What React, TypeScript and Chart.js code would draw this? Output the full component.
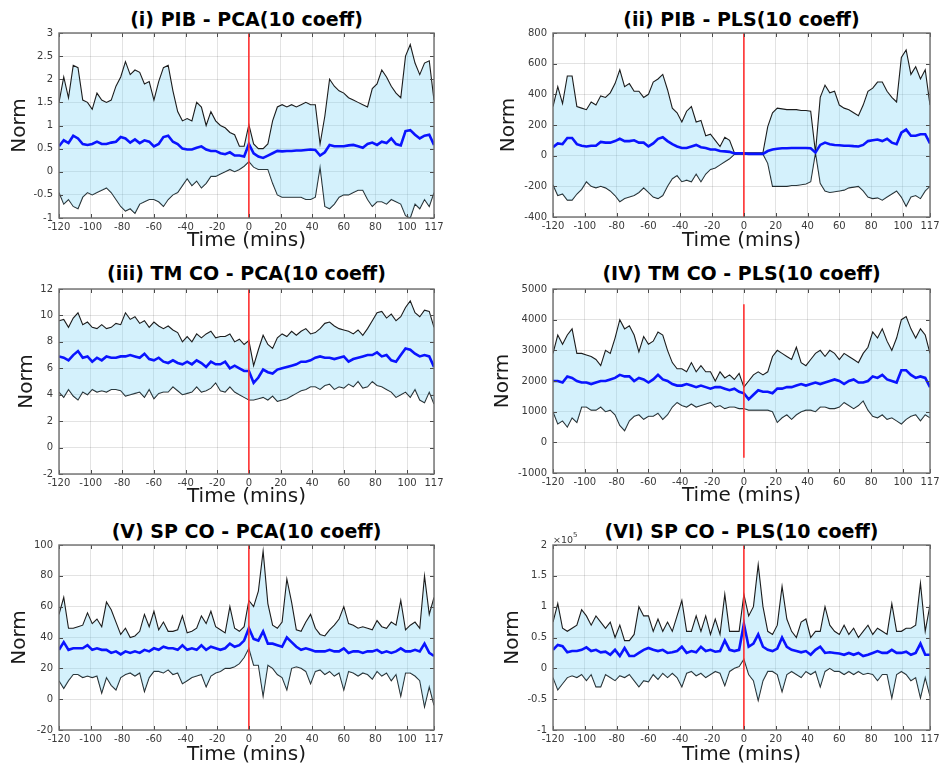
import React, { useEffect, useRef } from "react";
import { Chart, registerables } from "chart.js";

Chart.register(...registerables);

const FONT = "'DejaVu Sans', 'Liberation Sans', Arial, sans-serif";

// ---------- shared axis values ----------
const minutes = [
  -120, -117, -114, -111, -108, -105, -102, -99, -96, -93,
  -90, -87, -84, -81, -78, -75, -72, -69, -66, -63,
  -60, -57, -54, -51, -48, -45, -42, -39, -36, -33,
  -30, -27, -24, -21, -18, -15, -12, -9, -6, -3,
  0, 3, 6, 9, 12, 15, 18, 21, 24, 27,
  30, 33, 36, 39, 42, 45, 48, 51, 54, 57,
  60, 63, 66, 69, 72, 75, 78, 81, 84, 87,
  90, 93, 96, 99, 102, 105, 108, 111, 114, 117,
];
const xTicks = [-120, -100, -80, -60, -40, -20, 0, 20, 40, 60, 80, 100, 117];

// ---------- (i) PIB - PCA ----------
const pibPcaUpper = [
  1.5, 2.05, 1.6, 2.3, 2.25, 1.55, 1.5, 1.35, 1.7, 1.55,
  1.5, 1.55, 1.85, 2.05, 2.38, 2.1, 2.2, 2.15, 1.9, 1.95,
  1.55, 1.95, 2.25, 2.3, 1.75, 1.3, 1.1, 1.15, 1.1, 1.5,
  1.4, 1.0, 1.3, 1.1, 1.0, 0.95, 0.85, 0.8, 0.55, 0.55,
  1.02, 0.6, 0.5, 0.5, 0.6, 1.1, 1.4, 1.45, 1.4, 1.45,
  1.4, 1.45, 1.5, 1.45, 1.45, 0.6, 1.2, 2.0, 1.85, 1.75,
  1.7, 1.6, 1.55, 1.5, 1.45, 1.4, 1.8, 1.9, 2.2, 2.05,
  1.85, 1.7, 1.6, 2.5, 2.75, 2.35, 2.1, 2.35, 2.4, 1.55,
];
const pibPcaLower = [
  -0.45, -0.7, -0.6, -0.75, -0.8, -0.55, -0.45, -0.5, -0.45, -0.4,
  -0.35, -0.45, -0.6, -0.75, -0.85, -0.8, -0.9, -0.7, -0.65, -0.6,
  -0.6, -0.65, -0.75, -0.6, -0.5, -0.45, -0.3, -0.15, -0.3, -0.2,
  -0.35, -0.25, -0.1, -0.1, -0.05, 0.0, 0.05, 0.0, 0.05, 0.12,
  0.22, 0.1, 0.05, 0.05, 0.05, -0.25, -0.5, -0.55, -0.55, -0.55,
  -0.55, -0.55, -0.6, -0.6, -0.55, 0.1, -0.75, -0.8, -0.7, -0.55,
  -0.5, -0.5, -0.45, -0.4, -0.4, -0.6, -0.75, -0.65, -0.65, -0.7,
  -0.6, -0.65, -0.7, -0.95, -1.0, -0.7, -0.8, -0.6, -0.75, -0.45,
];
const pibPcaMean = [
  0.55, 0.68, 0.62, 0.78, 0.72, 0.6, 0.58, 0.6, 0.65, 0.6,
  0.6, 0.63, 0.65, 0.75, 0.72, 0.63, 0.7, 0.62, 0.68, 0.65,
  0.55, 0.6, 0.75, 0.78, 0.65, 0.6, 0.5, 0.48, 0.48, 0.52,
  0.55, 0.48, 0.45, 0.45, 0.4, 0.38, 0.42, 0.35, 0.35, 0.33,
  0.6, 0.4, 0.33, 0.3, 0.35, 0.4, 0.45, 0.44, 0.45, 0.45,
  0.46, 0.46, 0.47, 0.48, 0.47, 0.35, 0.42, 0.58, 0.55, 0.55,
  0.55, 0.57, 0.58, 0.55, 0.52, 0.6, 0.63, 0.58, 0.65, 0.62,
  0.72, 0.6, 0.57, 0.88, 0.9, 0.8, 0.72, 0.78, 0.8, 0.58,
];
const pibPcaTicks = [-1, -0.5, 0, 0.5, 1, 1.5, 2, 2.5, 3];

// ---------- (ii) PIB - PLS ----------
const pibPlsUpper = [
  320, 450, 340, 520, 520, 320, 310, 300, 350, 330,
  390, 380, 410, 470, 560, 450, 470, 420, 420, 380,
  400, 480, 500, 530, 430, 310, 280, 220, 290, 320,
  220, 230, 130, 140, 100, 60, 120, 100, 20, 20,
  18, 18, 18, 18, 20, 190, 280, 310, 305, 300,
  300, 300, 295, 295, 290, 20, 380, 460, 410, 420,
  330, 310, 300, 280, 260, 330, 420, 440, 480, 480,
  420, 380, 350, 640, 690, 530, 580, 500, 560, 330,
];
const pibPlsLower = [
  -190, -260, -250, -290, -290, -250, -220, -170, -200, -210,
  -200, -210, -230, -260, -300, -280, -270, -260, -240, -210,
  -240, -270, -280, -260, -200, -150, -130, -170, -160, -170,
  -120, -170, -120, -90, -80, -60, -40, -20, 8, 10,
  10, 10, 10, 10, 10, -50, -200, -200, -200, -200,
  -195, -195, -190, -185, -170, 20, -180, -230, -240, -235,
  -230, -225, -210, -205, -200, -230, -270, -280, -275, -290,
  -270, -250, -230, -270, -330, -270, -260, -280, -230, -200,
];
const pibPlsMean = [
  55, 80, 75, 115, 115, 75, 65, 60, 65, 65,
  90, 85, 85, 95, 110, 95, 95, 100, 85, 85,
  60, 80, 110, 120, 95, 75, 60, 50, 50, 60,
  70, 55, 50, 40, 40, 30, 28, 25, 15, 15,
  15, 12, 12, 12, 12, 30, 40, 45, 48, 48,
  50, 50, 50, 50, 48, 20, 70, 85, 75, 70,
  68, 65, 65, 62, 60, 70, 95, 100, 105, 95,
  110, 85, 75, 150, 170, 130, 130, 140, 140, 80,
];
const pibPlsTicks = [-400, -200, 0, 200, 400, 600, 800];

// ---------- (iii) TM CO - PCA ----------
const tmPcaUpper = [
  9.6, 9.7, 9.1, 9.8, 10.2, 9.3, 9.5, 9.1, 9.0, 9.3,
  9.0, 9.1, 9.4, 9.3, 10.2, 9.7, 9.9, 9.4, 9.6, 9.1,
  9.5, 9.2, 9.0, 9.2, 8.9, 8.7, 8.0, 8.4, 8.0, 8.6,
  8.3, 8.6, 8.8, 8.3, 8.4, 8.4, 8.6, 8.0, 8.2, 7.8,
  8.1, 6.2, 7.4, 8.5, 7.8, 7.5, 8.3, 8.6, 8.4, 8.8,
  8.5, 8.8, 9.0, 8.6, 8.7, 9.0, 9.4, 9.5, 9.2, 9.0,
  8.9, 8.8, 8.6, 8.9, 8.5, 9.0, 9.6, 10.2, 10.3, 9.8,
  10.1, 9.6, 9.9, 10.6, 11.1, 10.2, 9.9, 10.4, 10.3, 9.1,
];
const tmPcaLower = [
  4.2, 3.8, 4.4, 3.9, 3.6, 4.2, 4.0, 4.4, 4.2, 4.3,
  4.2, 4.4, 4.4, 4.3, 3.9, 4.0, 4.1, 4.2, 3.8, 4.4,
  3.7, 4.1, 4.2, 4.2, 4.6, 4.3, 4.0, 4.1, 4.2, 4.6,
  4.2, 4.3, 4.5, 4.9, 4.3, 4.2, 4.6, 4.2, 4.0, 3.8,
  3.6, 3.6, 3.7, 3.8, 3.6, 3.9, 3.5, 3.6, 3.7, 3.9,
  4.1, 4.3, 4.4, 4.6, 4.6, 4.4, 4.7, 4.8, 4.4, 4.6,
  4.5, 4.8, 4.6, 5.0, 4.5, 4.6, 5.0, 4.7, 4.6, 4.4,
  4.2, 3.8, 4.0, 4.2, 3.8, 4.4, 3.6, 3.4, 4.2, 3.3,
];
const tmPcaMean = [
  6.9, 6.8, 6.6, 7.0, 7.3, 6.8, 6.9, 6.5, 6.8, 6.6,
  6.9, 6.8, 6.8, 6.9, 6.9, 7.0, 6.9, 6.8, 7.1, 6.7,
  6.6, 6.8, 6.5, 6.4, 6.6, 6.4, 6.3, 6.5, 6.3, 6.6,
  6.4, 6.1, 6.5, 6.3, 6.3, 6.5, 6.0, 6.2, 6.0, 5.8,
  5.8, 4.9, 5.3, 5.9, 5.7, 5.6, 5.9, 6.0, 6.1, 6.2,
  6.3, 6.5, 6.5, 6.6, 6.8, 6.9, 6.8, 6.8, 6.7, 6.8,
  6.9, 6.5, 6.7, 6.8, 6.9, 7.0, 7.0, 7.2, 6.9, 7.0,
  6.6, 6.5, 7.0, 7.5, 7.4, 7.1, 6.9, 7.0, 6.9, 6.1,
];
const tmPcaTicks = [-2, 0, 2, 4, 6, 8, 10, 12];

// ---------- (IV) TM CO - PLS ----------
const tmPlsUpper = [
  2900, 3500, 3200, 3500, 3700, 2900, 2900, 2850, 2800, 2700,
  2500, 3000, 2900, 3400, 4000, 3700, 3800, 3500, 2950, 3450,
  3200, 3300, 3600, 3500, 3000, 2600, 2400, 2400, 2300, 2600,
  2300, 2500, 2300, 2300, 2000, 2300, 2100, 2200, 2050, 2250,
  1800, 2000, 2200, 2300, 2200, 2300, 2800, 3000, 2900, 2800,
  2700, 3100, 2600, 2500, 2700, 2900, 3000, 2800, 3000, 2900,
  2700, 2900, 2800, 2700, 2600, 2900, 3100, 3600, 3400, 3700,
  3300, 3000, 3400, 4000, 4100, 3700, 3400, 3700, 3500, 2900,
];
const tmPlsLower = [
  1000, 600, 700, 500, 800, 650, 1150, 1150, 1050, 1050,
  1150, 1000, 1050, 900, 550, 380, 700, 850, 900, 750,
  850, 850, 950, 750, 900, 1150, 1300, 1200, 1150, 1250,
  1150, 1200, 1250, 1300, 1150, 1200, 1100, 1150, 1150, 1100,
  1100, 1050, 1050, 1050, 1050, 1050, 1000, 650, 800, 900,
  750, 900, 1000, 1050, 1050, 1000, 1150, 1150, 1100, 1100,
  1150, 1300, 1200, 1100, 1200, 1350, 1050, 850, 800, 900,
  750, 800, 700, 600, 750, 850, 900, 700, 900, 800,
];
const tmPlsMean = [
  2000, 2000, 1950, 2150, 2100, 2000, 1950, 1950, 1900, 1950,
  2000, 2000, 2050, 2100, 2200, 2150, 2150, 2000, 2100, 2050,
  1950, 2050, 2200, 2050, 2000, 1900, 1850, 1850, 1900, 1850,
  1800, 1850, 1800, 1750, 1800, 1800, 1750, 1700, 1750, 1650,
  1600, 1400, 1550, 1700, 1650, 1650, 1600, 1750, 1750, 1800,
  1800, 1850, 1900, 1850, 1900, 1950, 1900, 1950, 2000, 2050,
  2000, 1900, 2000, 2050, 1950, 1950, 2000, 2150, 2100, 2200,
  2050, 2000, 1950, 2350, 2350, 2200, 2100, 2150, 2100, 1800,
];
const tmPlsTicks = [-1000, 0, 1000, 2000, 3000, 4000, 5000];

// ---------- (V) SP CO - PCA ----------
const spPcaUpper = [
  55, 66, 46, 46, 47, 48, 56, 49, 52, 47,
  63, 58, 50, 42, 46, 40, 41, 44, 55, 47,
  57, 45, 50, 44, 44, 45, 54, 43, 44, 46,
  54, 49, 57, 47, 45, 43, 60, 46, 44, 47,
  64, 60, 70, 96, 62, 48, 46, 50, 78, 63,
  45, 44, 50, 55, 46, 42, 41, 45, 48, 52,
  60, 49, 48, 46, 47, 46, 45, 51, 47, 46,
  50, 48, 64, 45, 48, 50, 46, 80, 55, 66,
];
const spPcaLower = [
  12, 7, 12, 16, 16, 14, 15, 14, 15, 4,
  14, 9, 6, 14, 16, 17, 15, 17, 5, 14,
  18, 18, 17, 19, 16, 17, 10, 12, 14, 15,
  16, 8, 15, 17, 18, 20, 20, 21, 23, 27,
  33, 22, 22, 2, 22, 20, 16, 14, 6, 20,
  21, 20, 18, 10, 18, 19, 16, 18, 15, 17,
  6, 18, 17, 15, 17, 16, 13, 18, 15, 17,
  12, 16, 2, 17, 17, 15, 12, -5, 8, -4,
];
const spPcaMean = [
  32, 37, 32, 33, 33, 33, 35, 32, 33, 32,
  32, 30, 31, 29, 31, 30, 31, 30, 32, 31,
  33, 32, 34, 33, 33, 32, 35, 32, 33, 32,
  35, 32, 34, 33, 32, 33, 36, 34, 35, 38,
  46, 39, 38, 44, 36, 36, 35, 34, 40, 37,
  34, 32, 33, 32, 31, 31, 31, 32, 31, 31,
  33, 30, 31, 31, 30, 31, 31, 32, 30, 31,
  30, 31, 33, 31, 31, 32, 31, 36, 30, 28,
];
const spPcaTicks = [-20, 0, 20, 40, 60, 80, 100];

// ---------- (VI) SP CO - PLS (values in units of 10^5) ----------
const spPlsUpper = [
  0.75, 1.05, 0.65, 0.6, 0.65, 0.7, 0.95, 0.85, 0.7, 0.85,
  0.75, 0.65, 0.75, 0.5, 0.7, 0.45, 0.45, 0.55, 1.0, 0.85,
  0.85, 0.6, 0.8, 0.6, 0.75, 0.6, 0.85, 1.1, 0.6, 0.6,
  0.85, 0.6, 0.85, 0.55, 0.8, 0.55, 1.2, 0.6, 0.6, 0.6,
  1.2, 0.85, 1.0, 1.68, 1.0, 0.6, 0.55, 0.7, 1.33, 0.8,
  0.6, 0.5, 0.75, 0.8, 0.5, 0.6, 0.6, 1.0, 0.7, 0.6,
  0.55, 0.7, 0.55, 0.65, 0.5, 0.6, 0.7, 0.55, 0.65, 0.6,
  0.55, 1.05, 0.6, 0.6, 0.65, 0.65, 0.7, 1.38, 0.6, 1.03,
];
const spPlsLower = [
  -0.15, -0.35, -0.25, -0.15, -0.12, -0.15, -0.1, -0.2, -0.1, -0.3,
  -0.3, -0.1, -0.15, -0.2, -0.12, -0.15, -0.1, -0.2, -0.3, -0.2,
  -0.22, -0.1, -0.18, -0.08, -0.15, -0.08, -0.15, -0.3, -0.08, -0.05,
  -0.12, -0.08, -0.15, -0.1, -0.05, -0.08, -0.28, -0.05, 0.0, 0.03,
  0.15, -0.1, -0.2, -0.52, -0.2, -0.05, -0.05, -0.1, -0.38, -0.1,
  -0.05, -0.1, -0.15, -0.05, -0.1, -0.05, -0.3, -0.05, 0.0, -0.05,
  -0.05, -0.1, -0.05, -0.1, -0.05, -0.1, -0.08, -0.1, -0.2, -0.1,
  -0.1, -0.48, -0.1, -0.05, -0.1, -0.2, -0.15, -0.48, -0.15, -0.45,
];
const spPlsMean = [
  0.3, 0.38, 0.36, 0.26, 0.28, 0.28, 0.3, 0.34, 0.28, 0.3,
  0.26, 0.27, 0.22, 0.3, 0.2, 0.33, 0.2, 0.2, 0.25, 0.3,
  0.33, 0.3, 0.28, 0.3, 0.25, 0.26, 0.28, 0.35, 0.25, 0.28,
  0.26, 0.35, 0.28, 0.3, 0.27, 0.28, 0.45, 0.3, 0.28, 0.3,
  0.72, 0.35, 0.4, 0.55, 0.35, 0.3, 0.28, 0.32, 0.5, 0.35,
  0.3, 0.28, 0.26, 0.28, 0.22, 0.3, 0.35, 0.25, 0.26, 0.25,
  0.24, 0.22, 0.25, 0.22, 0.25, 0.2, 0.22, 0.25, 0.28, 0.25,
  0.25, 0.3, 0.25, 0.25, 0.27, 0.22, 0.25, 0.4, 0.22, 0.22,
];
const spPlsTicks = [-1, -0.5, 0, 0.5, 1, 1.5, 2];

// ---------- panel specs ----------
type Box = { left: number; top: number; width: number; height: number };
type Plot = { left: number; right: number; top: number; bottom: number };
type PanelSpec = {
  title: string;
  upper: number[];
  lower: number[];
  mean: number[];
  ticks: number[];
  red: [number, number];
  exponent?: string;
  box: Box;
  plot: Plot;
  normX: number;
  timeY: number;
  titleTop: number;
};

const panels: PanelSpec[] = [
  {
    title: "(i) PIB - PCA(10 coeff)",
    upper: pibPcaUpper, lower: pibPcaLower, mean: pibPcaMean, ticks: pibPcaTicks,
    red: [-1, 3],
    box: { left: 0, top: 0, width: 470, height: 256 },
    plot: { left: 59, right: 434, top: 33, bottom: 218 },
    normX: 20, timeY: 241, titleTop: 8,
  },
  {
    title: "(ii) PIB - PLS(10 coeff)",
    upper: pibPlsUpper, lower: pibPlsLower, mean: pibPlsMean, ticks: pibPlsTicks,
    red: [-400, 800],
    box: { left: 470, top: 0, width: 470, height: 256 },
    plot: { left: 553, right: 930, top: 33, bottom: 217 },
    normX: 509, timeY: 241, titleTop: 8,
  },
  {
    title: "(iii) TM CO - PCA(10 coeff)",
    upper: tmPcaUpper, lower: tmPcaLower, mean: tmPcaMean, ticks: tmPcaTicks,
    red: [-2, 12],
    box: { left: 0, top: 256, width: 470, height: 257 },
    plot: { left: 59, right: 434, top: 289, bottom: 474 },
    normX: 27, timeY: 497, titleTop: 262,
  },
  {
    title: "(IV) TM CO - PLS(10 coeff)",
    upper: tmPlsUpper, lower: tmPlsLower, mean: tmPlsMean, ticks: tmPlsTicks,
    red: [-500, 4500],
    box: { left: 470, top: 256, width: 470, height: 257 },
    plot: { left: 553, right: 930, top: 289, bottom: 473 },
    normX: 503, timeY: 496, titleTop: 262,
  },
  {
    title: "(V) SP CO - PCA(10 coeff)",
    upper: spPcaUpper, lower: spPcaLower, mean: spPcaMean, ticks: spPcaTicks,
    red: [-20, 100],
    box: { left: 0, top: 513, width: 470, height: 257 },
    plot: { left: 59, right: 434, top: 545, bottom: 730 },
    normX: 20, timeY: 755, titleTop: 520,
  },
  {
    title: "(VI) SP CO - PLS(10 coeff)",
    upper: spPlsUpper, lower: spPlsLower, mean: spPlsMean, ticks: spPlsTicks,
    red: [-1, 2],
    exponent: "5",
    box: { left: 470, top: 513, width: 470, height: 257 },
    plot: { left: 553, right: 930, top: 545, bottom: 730 },
    normX: 513, timeY: 755, titleTop: 520,
  },
];

const TICK_COLOR = "#3a3a3a";
const GRID_COLOR = "rgba(0,0,0,0.11)";

function ChartPanel({ spec }: { spec: PanelSpec }) {
  const ref = useRef<HTMLCanvasElement | null>(null);

  useEffect(() => {
    const canvas = ref.current;
    if (!canvas) return;
    const { box, plot } = spec;
    const pts = (arr: number[]) => minutes.map((m, i) => ({ x: m, y: arr[i] }));
    const yMin = spec.ticks[0];
    const yMax = spec.ticks[spec.ticks.length - 1];

    const framePlugin = {
      id: "frame" + spec.title,
      afterDraw(chart: any) {
        const ctx = chart.ctx as CanvasRenderingContext2D;
        const { left, right, top, bottom } = chart.chartArea;
        const xs = chart.scales.x;
        const ys = chart.scales.y;
        ctx.save();
        ctx.strokeStyle = "#4a4a4a";
        ctx.lineWidth = 1;
        ctx.beginPath();
        for (const v of xTicks) {
          const px = Math.round(xs.getPixelForValue(v)) + 0.5;
          ctx.moveTo(px, bottom);
          ctx.lineTo(px, bottom - 4);
          ctx.moveTo(px, top);
          ctx.lineTo(px, top + 4);
        }
        for (const v of spec.ticks) {
          const py = Math.round(ys.getPixelForValue(v)) + 0.5;
          ctx.moveTo(left, py);
          ctx.lineTo(left + 4, py);
          ctx.moveTo(right, py);
          ctx.lineTo(right - 4, py);
        }
        ctx.stroke();
        ctx.strokeStyle = "#6e6e6e";
        ctx.lineWidth = 1.4;
        ctx.strokeRect(left, top, right - left, bottom - top);
        if (spec.exponent) {
          ctx.fillStyle = TICK_COLOR;
          ctx.textBaseline = "alphabetic";
          ctx.textAlign = "left";
          ctx.font = `9.5px ${FONT}`;
          const base = "\u00d710";
          ctx.fillText(base, left, top - 2);
          const w = ctx.measureText(base).width;
          ctx.font = `7px ${FONT}`;
          ctx.fillText(spec.exponent, left + w, top - 8);
        }
        ctx.restore();
      },
    };

    const chart = new Chart(canvas, {
      type: "line",
      data: {
        datasets: [
          {
            data: [
              { x: 0, y: spec.red[0] },
              { x: 0, y: spec.red[1] },
            ],
            borderColor: "#ff3030",
            borderWidth: 1.6,
            pointRadius: 0,
            fill: false,
          },
          {
            data: pts(spec.mean),
            borderColor: "#0a14ff",
            borderWidth: 2.6,
            pointRadius: 0,
            fill: false,
          },
          {
            data: pts(spec.upper),
            borderColor: "#1c1c1c",
            borderWidth: 1.1,
            pointRadius: 0,
            fill: "+1",
            backgroundColor: "rgba(120, 210, 245, 0.32)",
          },
          {
            data: pts(spec.lower),
            borderColor: "#1c1c1c",
            borderWidth: 1.1,
            pointRadius: 0,
            fill: false,
          },
        ],
      },
      options: {
        responsive: false,
        animation: false,
        devicePixelRatio: 1,
        events: [],
        layout: {
          padding: {
            top: plot.top - box.top,
            right: box.left + box.width - plot.right,
            left: 0,
            bottom: 0,
          },
        },
        elements: { line: { tension: 0 }, point: { radius: 0 } },
        plugins: {
          legend: { display: false },
          tooltip: { enabled: false },
          title: { display: false },
        },
        scales: {
          x: {
            type: "linear",
            min: -120,
            max: 117,
            afterBuildTicks: (s: any) => {
              s.ticks = xTicks.map((v) => ({ value: v }));
            },
            afterFit: (s: any) => {
              s.height = box.top + box.height - plot.bottom;
              s.paddingLeft = 0;
              s.paddingRight = 0;
            },
            grid: { color: GRID_COLOR, drawTicks: false, lineWidth: 1 },
            border: { display: false },
            ticks: {
              autoSkip: false,
              maxRotation: 0,
              padding: 3,
              color: TICK_COLOR,
              font: { family: FONT, size: 10 },
              callback: (v: any) => String(v),
            },
            title: {
              display: true,
              text: "Time (mins)",
              color: "#1a1a1a",
              font: { family: FONT, size: 20 },
              padding: { top: 0, bottom: box.top + box.height - spec.timeY - 12 },
            },
          },
          y: {
            type: "linear",
            min: yMin,
            max: yMax,
            afterBuildTicks: (s: any) => {
              s.ticks = spec.ticks.map((v) => ({ value: v }));
            },
            afterFit: (s: any) => {
              s.width = plot.left - box.left;
              s.paddingTop = 0;
              s.paddingBottom = 0;
            },
            grid: { color: GRID_COLOR, drawTicks: false, lineWidth: 1 },
            border: { display: false },
            ticks: {
              autoSkip: false,
              padding: 6,
              color: TICK_COLOR,
              font: { family: FONT, size: 10 },
              callback: (v: any) => String(v),
            },
            title: {
              display: true,
              text: "Norm",
              color: "#1a1a1a",
              font: { family: FONT, size: 20 },
              padding: { top: spec.normX - box.left - 12, bottom: 0 },
            },
          },
        },
      },
      plugins: [framePlugin],
    } as any);

    return () => {
      chart.destroy();
    };
  }, [spec]);

  const { box, plot } = spec;
  return (
    <>
      <div
        style={{
          position: "absolute",
          left: plot.left,
          width: plot.right - plot.left,
          top: spec.titleTop,
          textAlign: "center",
          font: `bold 19px ${FONT}`,
          lineHeight: "22px",
          color: "#000",
          whiteSpace: "nowrap",
        }}
      >
        {spec.title}
      </div>
      <canvas
        ref={ref}
        width={box.width}
        height={box.height}
        style={{
          position: "absolute",
          left: box.left,
          top: box.top,
          width: box.width,
          height: box.height,
        }}
      />
    </>
  );
}

export default function App() {
  return (
    <div
      style={{
        position: "absolute",
        left: 0,
        top: 0,
        width: 940,
        height: 770,
        background: "#ffffff",
        overflow: "hidden",
      }}
    >
      {panels.map((p) => (
        <ChartPanel key={p.title} spec={p} />
      ))}
    </div>
  );
}
